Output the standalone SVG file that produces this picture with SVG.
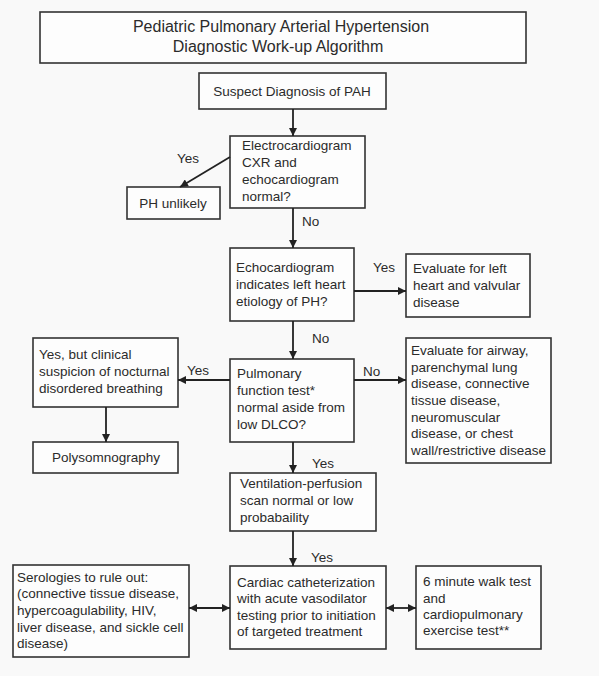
<svg xmlns="http://www.w3.org/2000/svg" width="599" height="676" viewBox="0 0 599 676">
<defs>
<style>
.box{fill:#fdfdfd;stroke:#333;stroke-width:1.6}
.t{font-family:"Liberation Sans",Arial,sans-serif;font-size:13.5px;fill:#2b2b2b}
.title{font-size:16px}
.c{text-anchor:middle}
.ln{stroke:#222;stroke-width:1.8;fill:none}
</style>
<marker id="ah" viewBox="0 0 10 10" refX="10" refY="5" markerWidth="9" markerHeight="8" markerUnits="userSpaceOnUse" orient="auto-start-reverse">
<path d="M0,0 L10,5 L0,10 z" fill="#222"/>
</marker>
</defs>
<rect width="599" height="676" fill="#f9f9f9"/>

<g id="title">
<rect class="box" x="40" y="12" width="486" height="51"/>
<text class="t title c" x="281" y="32">Pediatric Pulmonary Arterial Hypertension</text>
<text class="t title c" x="278" y="52">Diagnostic Work-up Algorithm</text>
</g>

<g id="suspect">
<rect class="box" x="199" y="73" width="187" height="36"/>
<text class="t c" x="292" y="96">Suspect Diagnosis of PAH</text>
</g>

<g id="ecg">
<rect class="box" x="230" y="136" width="135" height="72"/>
<text class="t" x="242" y="150">Electrocardiogram</text>
<text class="t" x="242" y="167">CXR and</text>
<text class="t" x="242" y="184">echocardiogram</text>
<text class="t" x="242" y="201">normal?</text>
</g>

<g id="ph-unlikely">
<rect class="box" x="127" y="187" width="93" height="32"/>
<text class="t c" x="173" y="208">PH unlikely</text>
</g>

<g id="echo">
<rect class="box" x="230" y="248" width="124" height="73"/>
<text class="t" x="236" y="272">Echocardiogram</text>
<text class="t" x="236" y="289">indicates left heart</text>
<text class="t" x="236" y="306">etiology of PH?</text>
</g>

<g id="left-heart">
<rect class="box" x="406" y="254" width="124" height="63"/>
<text class="t" x="413" y="273">Evaluate for left</text>
<text class="t" x="413" y="290">heart and valvular</text>
<text class="t" x="413" y="307">disease</text>
</g>

<g id="pft">
<rect class="box" x="230" y="359" width="124" height="83"/>
<text class="t" x="237" y="378">Pulmonary</text>
<text class="t" x="237" y="395">function test*</text>
<text class="t" x="237" y="412">normal aside from</text>
<text class="t" x="237" y="429">low DLCO?</text>
</g>

<g id="nocturnal">
<rect class="box" x="33" y="338" width="145" height="69"/>
<text class="t" x="39" y="359">Yes, but clinical</text>
<text class="t" x="39" y="376">suspicion of nocturnal</text>
<text class="t" x="39" y="393">disordered breathing</text>
</g>

<g id="polysomnography">
<rect class="box" x="33" y="442" width="145" height="31"/>
<text class="t c" x="106" y="462">Polysomnography</text>
</g>

<g id="airway">
<rect class="box" x="406" y="338" width="145" height="125"/>
<text class="t" x="411" y="355">Evaluate for airway,</text>
<text class="t" x="411" y="372">parenchymal lung</text>
<text class="t" x="411" y="388">disease, connective</text>
<text class="t" x="411" y="405">tissue disease,</text>
<text class="t" x="411" y="422">neuromuscular</text>
<text class="t" x="411" y="438">disease, or chest</text>
<text class="t" x="411" y="455">wall/restrictive disease</text>
</g>

<g id="vq">
<rect class="box" x="230" y="473" width="146" height="58"/>
<text class="t" x="240" y="488">Ventilation-perfusion</text>
<text class="t" x="240" y="505">scan normal or low</text>
<text class="t" x="240" y="522">probabaility</text>
</g>

<g id="cath">
<rect class="box" x="230" y="566" width="156" height="83"/>
<text class="t" x="237" y="587">Cardiac catheterization</text>
<text class="t" x="237" y="603">with acute vasodilator</text>
<text class="t" x="237" y="620">testing prior to initiation</text>
<text class="t" x="237" y="636">of targeted treatment</text>
</g>

<g id="serologies">
<rect class="box" x="13" y="565" width="176" height="92"/>
<text class="t" x="17" y="582">Serologies to rule out:</text>
<text class="t" x="17" y="598">(connective tissue disease,</text>
<text class="t" x="17" y="615">hypercoagulability, HIV,</text>
<text class="t" x="17" y="632">liver disease, and sickle cell</text>
<text class="t" x="17" y="648">disease)</text>
</g>

<g id="walk">
<rect class="box" x="416" y="566" width="125" height="83"/>
<text class="t" x="423" y="586">6 minute walk test</text>
<text class="t" x="423" y="603">and</text>
<text class="t" x="423" y="619">cardiopulmonary</text>
<text class="t" x="423" y="635">exercise test**</text>
</g>

<g id="connectors">
<path class="ln" d="M293,109 L293,136" marker-end="url(#ah)"/>
<path class="ln" d="M230,157 L180,187" marker-end="url(#ah)"/>
<path class="ln" d="M293,208 L293,248" marker-end="url(#ah)"/>
<path class="ln" d="M354,291 L406,291" marker-end="url(#ah)"/>
<path class="ln" d="M293,321 L293,359" marker-end="url(#ah)"/>
<path class="ln" d="M354,380 L406,380" marker-end="url(#ah)"/>
<path class="ln" d="M230,380 L178,380" marker-end="url(#ah)"/>
<path class="ln" d="M106,407 L106,442" marker-end="url(#ah)"/>
<path class="ln" d="M293,442 L293,473" marker-end="url(#ah)"/>
<path class="ln" d="M293,531 L293,566" marker-end="url(#ah)"/>
<path class="ln" d="M189,608 L230,608" marker-start="url(#ah)" marker-end="url(#ah)"/>
<path class="ln" d="M386,608 L416,608" marker-start="url(#ah)" marker-end="url(#ah)"/>
<text class="t" x="177" y="163">Yes</text>
<text class="t" x="302" y="226">No</text>
<text class="t" x="373" y="272">Yes</text>
<text class="t" x="312" y="343">No</text>
<text class="t" x="363" y="376">No</text>
<text class="t" x="187" y="375">Yes</text>
<text class="t" x="312" y="468">Yes</text>
<text class="t" x="311" y="562">Yes</text>
</g>
</svg>
